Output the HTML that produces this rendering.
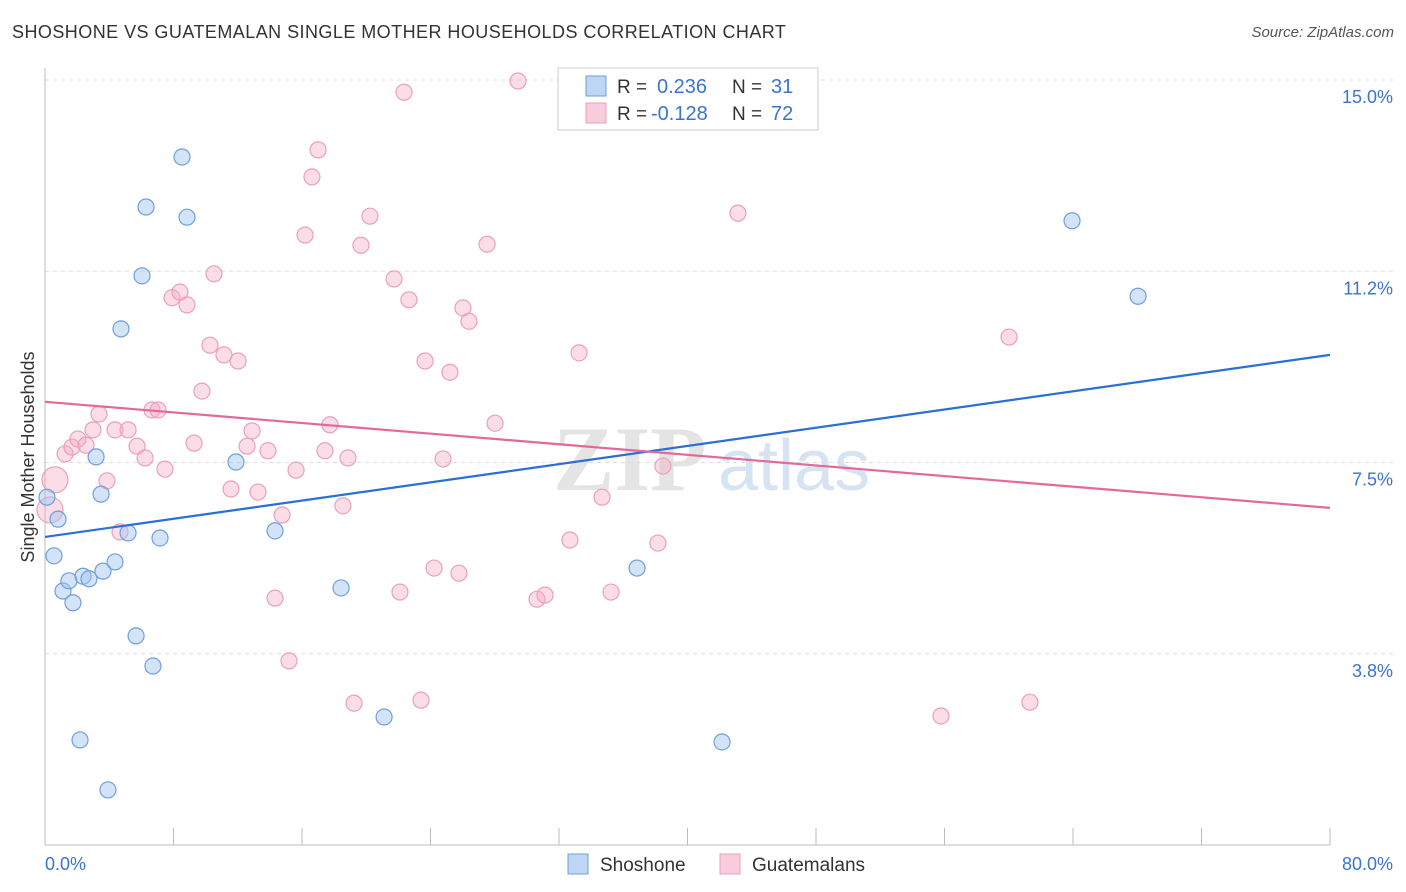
<!DOCTYPE html>
<html><head><meta charset="utf-8">
<style>
body{margin:0;background:#fff;font-family:"Liberation Sans",sans-serif;}
#wrap{position:relative;width:1406px;height:892px;overflow:hidden;}
.t{position:absolute;white-space:nowrap;}
</style></head>
<body>
<div id="wrap">
<div class="t" style="left:12px;top:22px;font-size:18px;color:#333;letter-spacing:0.45px;">SHOSHONE VS GUATEMALAN SINGLE MOTHER HOUSEHOLDS CORRELATION CHART</div>
<div class="t" style="right:12px;top:24px;font-size:15px;color:#555;font-style:italic;">Source: ZipAtlas.com</div>
<svg id="svg" width="1406" height="892" style="position:absolute;left:0;top:0;"></svg>
</div>
<script>
const xTickVals=[0,8,16,24,32,40,48,56,64,72,80];
const yTickVals=[15,11.25,7.5,3.75];
const yTickLabels=["15.0%","11.2%","7.5%","3.8%"];
const xEndLabels=["0.0%","80.0%"];
const shoshoneX=[0.12,0.81,0.56,1.12,1.49,1.74,2.37,2.74,3.49,3.18,3.61,4.36,4.73,5.17,5.67,6.04,6.29,6.72,7.16,8.53,8.84,11.89,14.32,18.43,21.11,36.86,42.15,63.94,68.05,2.18,3.92];
const shoshoneY=[6.82,6.39,5.67,4.98,5.18,4.75,5.27,5.22,6.88,7.61,5.37,5.55,10.12,6.12,4.10,11.16,12.51,3.51,6.02,13.49,12.31,7.51,6.16,5.04,2.51,5.43,2.02,12.24,10.76,2.06,1.08];
const guatX=[0.62,0.31,1.25,1.68,2.05,2.55,2.99,3.36,3.86,4.36,4.67,5.17,5.73,6.23,6.66,7.04,7.47,7.91,8.40,8.84,9.28,9.77,10.27,10.52,11.14,11.58,12.02,12.58,12.89,13.26,13.88,14.76,14.32,15.19,15.63,16.19,16.62,17.00,17.43,17.74,18.55,18.86,19.24,19.67,20.23,21.73,22.10,22.35,22.66,23.41,23.66,24.22,24.78,25.21,25.77,26.02,26.40,27.52,28.02,29.45,30.63,31.13,32.68,33.25,34.68,35.24,38.16,38.47,43.14,55.78,60.02,61.32];
const guatY=[7.16,6.57,7.67,7.80,7.96,7.84,8.14,8.45,7.14,8.14,6.14,8.14,7.82,7.59,8.53,8.53,7.37,10.73,10.84,10.59,7.88,8.90,9.80,11.20,9.61,6.98,9.49,7.82,8.12,6.92,7.73,6.47,4.84,3.61,7.35,11.96,13.10,13.63,7.73,8.24,6.65,7.59,2.78,11.76,12.33,11.10,4.96,14.76,10.69,2.84,9.49,5.43,7.57,9.27,5.33,10.53,10.27,11.78,8.27,14.98,4.82,4.90,5.98,9.65,6.82,4.96,5.92,7.43,12.39,2.53,9.96,2.80];
const shoshoneTrend=[6.04,9.61];
const guatTrend=[8.69,6.61];

const X=v=>45+v*1285/80;
const Y=v=>80+(15-v)*51.0;
const svg=document.getElementById('svg');
const NS='http://www.w3.org/2000/svg';
function mk(tag,attrs){const e=document.createElementNS(NS,tag);for(const k in attrs)e.setAttribute(k,attrs[k]);svg.appendChild(e);return e;}

let wm=mk('text',{x:553,y:490,'font-size':'92','font-family':'Liberation Serif,serif','font-weight':'bold',fill:'#e4e4e4'});
wm.textContent='ZIP';


let wm2=mk('text',{x:718,y:490,'font-size':'72','font-family':'Liberation Sans,sans-serif',fill:'#d6e3f3'});
wm2.textContent='atlas';



yTickVals.forEach((v,i)=>{
 let g=mk('line',{x1:45,x2:1395,y1:Y(v),y2:Y(v),stroke:'#ddd','stroke-dasharray':'4,4'});
 
 
 let t=mk('text',{x:1393,y:Y(v)+23,'text-anchor':'end','font-size':'18',fill:'#3b73d0','font-family':'Liberation Sans,sans-serif'});
 t.textContent=yTickLabels[i];
 
 
});
let ax=mk('line',{x1:45,x2:45,y1:68,y2:845,stroke:'#bbb'});


let bx=mk('line',{x1:45,x2:1330,y1:845,y2:845,stroke:'#bbb'});


xTickVals.forEach(v=>{
 let l=mk('line',{x1:X(v),x2:X(v),y1:828,y2:845,stroke:'#bbb'});
 
 
});
let xl0=mk('text',{x:45,y:870,'font-size':'18',fill:'#3b73d0','font-family':'Liberation Sans,sans-serif'});
xl0.textContent=xEndLabels[0];


let xl1=mk('text',{x:1393,y:870,'text-anchor':'end','font-size':'18',fill:'#3b73d0','font-family':'Liberation Sans,sans-serif'});
xl1.textContent=xEndLabels[1];


let yt=mk('text',{x:0,y:0,'font-size':'18',fill:'#333','font-family':'Liberation Sans,sans-serif','text-anchor':'middle',transform:'translate(34,457) rotate(-90)'});
yt.textContent='Single Mother Households';



guatX.forEach((v,i)=>{
 let r=(i<2)?13:8;
 let c=mk('circle',{cx:X(v),cy:Y(guatY[i]),r:r,fill:'rgba(244,170,196,0.4)',stroke:'#eaa0ba','stroke-width':1.2});
 
 
});
shoshoneX.forEach((v,i)=>{
 let c=mk('circle',{cx:X(v),cy:Y(shoshoneY[i]),r:8,fill:'rgba(160,196,240,0.45)',stroke:'#6f9fdc','stroke-width':1.2});
 
 
});
let bl=mk('line',{x1:X(0),y1:Y(shoshoneTrend[0]),x2:X(80),y2:Y(shoshoneTrend[1]),stroke:'#2a6fd6','stroke-width':2.2});


let pl=mk('line',{x1:X(0),y1:Y(guatTrend[0]),x2:X(80),y2:Y(guatTrend[1]),stroke:'#e4689a','stroke-width':2.2});



let lb=mk('rect',{x:558,y:68,width:260,height:62,fill:'#fff',stroke:'#ccc'});


[[86,'rgba(160,196,240,0.7)','#6f9fdc','0.236','31',657],[113,'rgba(244,170,196,0.6)','#eaa0ba','-0.128','72',651]].forEach(r=>{
 let s=mk('rect',{x:586,y:r[0]-10,width:20,height:20,fill:r[1],stroke:r[2]});
 
 
 let t=mk('text',{x:617,y:r[0]+7,'font-size':'19','font-family':'Liberation Sans,sans-serif',fill:'#333'});
 t.textContent='R =';
 
 
 let tv=mk('text',{x:r[5],y:r[0]+7,'font-size':'20','font-family':'Liberation Sans,sans-serif',fill:'#3b73d0'});
 tv.textContent=r[3];
 
 
 let n=mk('text',{x:732,y:r[0]+7,'font-size':'19','font-family':'Liberation Sans,sans-serif',fill:'#333'});
 n.textContent='N =';
 
 
 let nv=mk('text',{x:771,y:r[0]+7,'font-size':'20','font-family':'Liberation Sans,sans-serif',fill:'#3b73d0'});
 nv.textContent=r[4];
 
 
});
[[568,'rgba(160,196,240,0.7)','#6f9fdc','Shoshone'],[720,'rgba(244,170,196,0.6)','#eaa0ba','Guatemalans']].forEach(r=>{
 let s=mk('rect',{x:r[0],y:854,width:20,height:20,fill:r[1],stroke:r[2]});
 
 
 let t=mk('text',{x:r[0]+32,y:871,'font-size':'19','font-family':'Liberation Sans,sans-serif',fill:'#333'});
 t.textContent=r[3];
 
 
});
</script>
</body></html>
